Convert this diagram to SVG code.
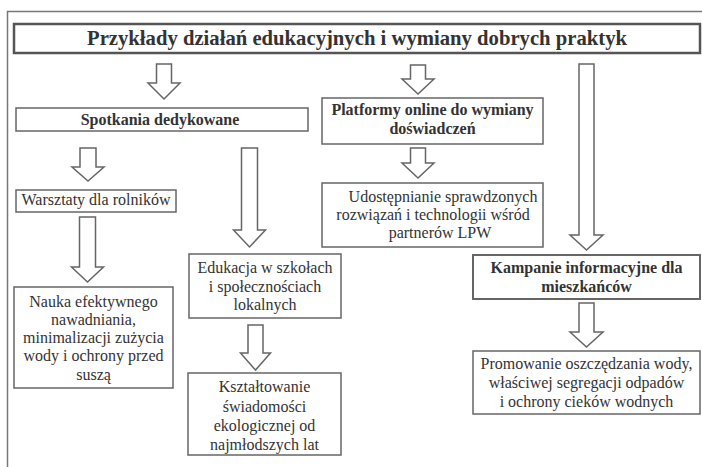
<svg xmlns="http://www.w3.org/2000/svg" width="702" height="467" viewBox="0 0 702 467">
<style>
.frame{fill:none;stroke:#777;stroke-width:1.5}
.box{fill:#fff;stroke:#666;stroke-width:1.5}
.tbox{fill:#fff;stroke:#555;stroke-width:2.5}
.arr{fill:#fff;stroke:#666;stroke-width:1.5;stroke-linejoin:miter}
text{font-family:"Liberation Serif","Times New Roman",serif;fill:#333;text-anchor:middle;font-size:16px}
.b{font-weight:bold}
.t{font-weight:bold;font-size:22px}
</style>
<rect width="702" height="467" fill="#fff"/>
<path class="frame" d="M7.5,467 V11.5 H702"/>
<g id="title"><rect class="tbox" x="14" y="24" width="686" height="29"/><text class="t" x="357" y="45" textLength="540" lengthAdjust="spacingAndGlyphs">Przykłady działań edukacyjnych i wymiany dobrych praktyk</text></g>
<g id="spotkania"><rect class="box" x="16" y="108" width="292" height="23"/><text class="b" x="160" y="125">Spotkania dedykowane</text></g>
<g id="platformy"><rect class="box" x="322" y="98" width="221" height="46"/><text class="b" x="432.5" y="115">Platformy online do wymiany</text><text class="b" x="432.5" y="134">doświadczeń</text></g>
<g id="warsztaty"><rect class="box" x="16" y="190" width="160" height="22"/><text x="96" y="205">Warsztaty dla rolników</text></g>
<g id="udostepnianie"><rect class="box" x="322" y="183" width="221" height="64"/><text x="443" y="202">Udostępnianie sprawdzonych</text><text x="433" y="220">rozwiązań i technologii wśród</text><text x="440" y="238">partnerów LPW</text></g>
<g id="edukacja"><rect class="box" x="189" y="254" width="152" height="64"/><text x="265" y="273">Edukacja w szkołach</text><text x="265" y="292">i społecznościach</text><text x="265" y="310">lokalnych</text></g>
<g id="nauka"><rect class="box" x="14" y="287" width="159" height="101"/><text x="93.5" y="307">Nauka efektywnego</text><text x="93.5" y="325">nawadniania,</text><text x="93.5" y="343">minimalizacji zużycia</text><text x="93.5" y="361">wody i ochrony przed</text><text x="93.5" y="380">suszą</text></g>
<g id="ksztaltowanie"><rect class="box" x="188" y="373" width="153" height="82"/><text x="264.5" y="392">Kształtowanie</text><text x="264.5" y="412">świadomości</text><text x="264.5" y="431">ekologicznej od</text><text x="264.5" y="450">najmłodszych lat</text></g>
<g id="kampanie"><rect class="box" x="473" y="255" width="227" height="44" style="stroke-width:2"/><text class="b" x="586.5" y="273">Kampanie informacyjne dla</text><text class="b" x="586.5" y="292">mieszkańców</text></g>
<g id="promowanie"><rect class="box" x="473" y="351" width="227" height="63"/><text x="586.5" y="369">Promowanie oszczędzania wody,</text><text x="586.5" y="388">właściwej segregacji odpadów</text><text x="586.5" y="407">i ochrony cieków wodnych</text></g>
<g id="connectors">
<path class="arr" d="M156.5,64 H171.5 V83 H180 L164,99 L148,83 H156.5 Z"/>
<path class="arr" d="M410.5,65 H425.5 V79 H434 L418,94 L402,79 H410.5 Z"/>
<path class="arr" d="M579,64 H594 V235 H603 L586.5,250 L570,235 H579 Z"/>
<path class="arr" d="M80,148 H96 V167 H104 L88,181 L72,167 H80 Z"/>
<path class="arr" d="M241.5,148 H257.5 V230 H265.5 L249.5,247 L233.5,230 H241.5 Z"/>
<path class="arr" d="M410.5,148 H425.5 V163 H434 L418,178 L402,163 H410.5 Z"/>
<path class="arr" d="M79.5,217 H95.5 V267 H103.5 L87.5,282 L71.5,267 H79.5 Z"/>
<path class="arr" d="M248,325 H263 V353 H270.5 L255.5,370 L240.5,353 H248 Z"/>
<path class="arr" d="M579,303 H594 V332 H603 L586.5,347 L570,332 H579 Z"/>
</g>
</svg>
